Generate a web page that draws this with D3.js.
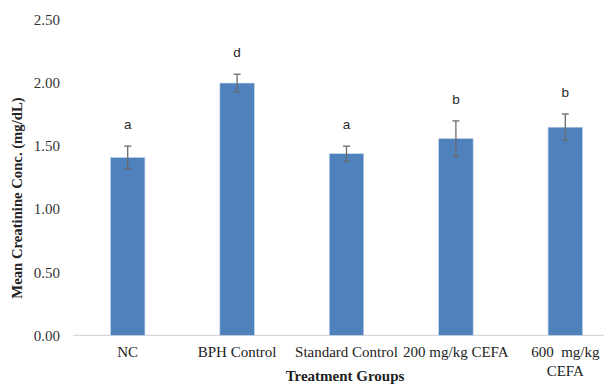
<!DOCTYPE html>
<html>
<head>
<meta charset="utf-8">
<script src="https://cdn.jsdelivr.net/npm/d3@7"></script>
<style>
  html, body { margin: 0; padding: 0; background: #fff; }
  svg { display: block; }
</style>
</head>
<body>
<svg id="chart" width="604" height="385"></svg>
<script>
// Treatment groups and mean creatinine values (mg/dL)
const groups = ["NC", "BPH Control", "Standard Control", "200 mg/kg CEFA", "600  mg/kg CEFA"];
const groupLines = [["NC"], ["BPH Control"], ["Standard Control"], ["200 mg/kg CEFA"], ["600  mg/kg", "CEFA"]];
const means = [1.41, 2.00, 1.44, 1.56, 1.65];
const errors = [0.09, 0.07, 0.06, 0.14, 0.105];
const letters = ["a", "d", "a", "b", "b"];
const yTicks = [0, 0.5, 1.0, 1.5, 2.0, 2.5];

const svg = d3.select("#chart");
const W = 604, H = 385;
const plotLeft = 73, plotRight = 620, plotTop = 20, plotBottom = 335.3;

const x = d3.scaleBand().domain(groups).range([plotLeft, plotRight]).paddingInner(0.685).paddingOuter(0.3425);
const y = d3.scaleLinear().domain([0, 2.5]).range([plotBottom, plotTop]);

const serif = "'Liberation Serif', 'Times New Roman', serif";
const sans = "'Liberation Sans', Arial, sans-serif";

// Y axis tick labels (no axis line)
const yAxis = d3.axisLeft(y).tickValues(yTicks).tickFormat(d3.format(".2f")).tickSize(0).tickPadding(13);
const gy = svg.append("g").attr("transform", `translate(${plotLeft},0)`).call(yAxis);
gy.select(".domain").remove();
gy.selectAll("text").attr("font-family", serif).attr("font-size", 15).attr("fill", "#333");

// Baseline
svg.append("line")
  .attr("x1", plotLeft).attr("x2", W)
  .attr("y1", y(0)).attr("y2", y(0))
  .attr("stroke", "#d9d9d9").attr("stroke-width", 1.2);

// Bars
svg.append("g").selectAll("rect").data(groups).join("rect")
  .attr("x", d => x(d))
  .attr("width", x.bandwidth())
  .attr("y", (d, i) => y(means[i]))
  .attr("height", (d, i) => y(0) - y(means[i]))
  .attr("fill", "#4f81bd")
  .attr("stroke", "#c5d4e8").attr("stroke-width", 0.6);

// Error bars
const eb = svg.append("g").attr("stroke", "#6b6b6b").attr("stroke-width", 1.3);
groups.forEach((g, i) => {
  const cx = x(g) + x.bandwidth() / 2;
  const y1 = y(means[i] + errors[i]), y2 = y(means[i] - errors[i]);
  eb.append("line").attr("x1", cx).attr("x2", cx).attr("y1", y1).attr("y2", y2);
  eb.append("line").attr("x1", cx - 3.5).attr("x2", cx + 3.5).attr("y1", y1).attr("y2", y1);
  eb.append("line").attr("x1", cx - 3.5).attr("x2", cx + 3.5).attr("y1", y2).attr("y2", y2);
});

// Significance letters
svg.append("g").selectAll("text").data(groups).join("text")
  .attr("x", d => x(d) + x.bandwidth() / 2)
  .attr("y", (d, i) => y(means[i] + errors[i]) - 22)
  .attr("dy", "0.35em")
  .attr("text-anchor", "middle")
  .attr("font-family", sans).attr("font-size", 13.5).attr("fill", "#2a2a2a")
  .text((d, i) => letters[i]);

// Category labels
const xl = svg.append("g");
groups.forEach((g, i) => {
  const cx = x(g) + x.bandwidth() / 2;
  const t = xl.append("text")
    .attr("x", cx).attr("y", 357)
    .attr("text-anchor", "middle")
    .attr("font-family", serif).attr("font-size", 15).attr("fill", "#222")
    .style("white-space", "pre");
  groupLines[i].forEach((ln, j) => {
    t.append("tspan").attr("x", cx).attr("dy", j === 0 ? 0 : 19).text(ln);
  });
});

// Axis titles
svg.append("text")
  .attr("x", 345).attr("y", 381)
  .attr("text-anchor", "middle")
  .attr("font-family", serif).attr("font-size", 15).attr("font-weight", "bold").attr("fill", "#222")
  .text("Treatment Groups");

svg.append("text")
  .attr("transform", "translate(22,198) rotate(-90)")
  .attr("text-anchor", "middle")
  .attr("font-family", serif).attr("font-size", 14.7).attr("font-weight", "bold").attr("fill", "#222")
  .text("Mean Creatinine Conc. (mg/dL)");
</script>
</body>
</html>
